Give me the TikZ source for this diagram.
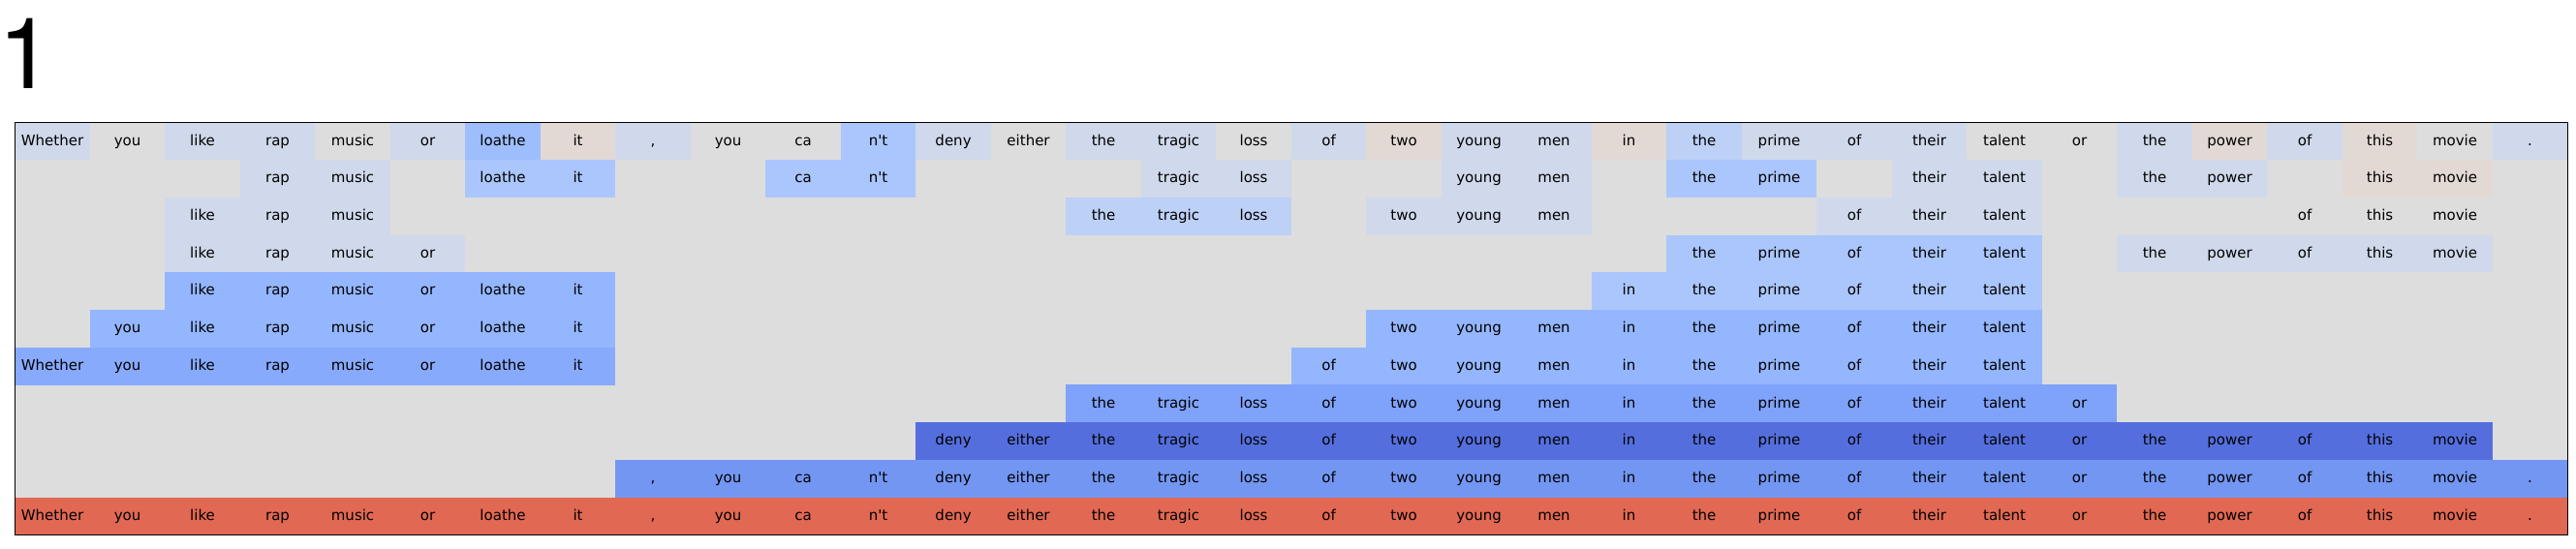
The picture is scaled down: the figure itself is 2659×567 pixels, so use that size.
\documentclass[tikz,border=0pt]{standalone}
\usepackage{fontspec}
\setmainfont{DejaVu Sans}
\newfontfamily\titlefont{TeX Gyre Heros}
\definecolor{colg}{RGB}{221,221,221}
\definecolor{cola}{RGB}{207,217,235}
\definecolor{cole}{RGB}{226,217,212}
\definecolor{colL}{RGB}{158,189,253}
\definecolor{colB}{RGB}{170,198,252}
\definecolor{colc}{RGB}{189,208,246}
\definecolor{colm}{RGB}{148,182,254}
\definecolor{coln}{RGB}{136,170,252}
\definecolor{colp}{RGB}{127,162,250}
\definecolor{cold}{RGB}{84,111,221}
\definecolor{colq}{RGB}{115,150,242}
\definecolor{colr}{RGB}{225,104,82}
\foreach \t [count=\i from 0] in {Whether,you,like,rap,music,or,loathe,it,{,},you,ca,n\textquotesingle t,deny,either,the,tragic,loss,of,two,young,men,in,the,prime,of,their,talent,or,the,power,of,this,movie,.}{\expandafter\global\expandafter\let\csname tok\i\endcsname\t}
\newcommand\cellrow[2]{%
  \foreach \c [count=\i from 0] in {#2} {%
    \if\c-\else
      \node[cell, fill=col\c] (c#1-\i) at ({15.3+77.5*(\i+0.5)},{126.5+38.71*(#1+0.5)}) {\csname tok\i\endcsname};
    \fi
  }}
\begin{document}
\begin{tikzpicture}[x=0.5pt,y=-0.5pt,
  cell/.style={inner sep=0pt, outer sep=0pt, minimum width=38.85pt, minimum height=19.45pt,
    text height=6pt, text depth=1.7pt, font=\fontsize{7.5}{9}\selectfont, text=black},
  gridbg/.style={fill=colg, draw=none},
  frame/.style={draw=black, line width=0.8pt}]
\useasboundingbox (0,0) rectangle (2659,567);
\node[anchor=base west, inner sep=0pt] (title) at (-1.5,91) {\titlefont\fontsize{51}{51}\selectfont 1};
\fill[gridbg] (15.3,126.5) rectangle (2650.3,552.3);
\cellrow{0}{a,g,a,a,g,a,L,e,a,g,g,B,a,g,a,a,g,a,e,a,a,e,c,a,a,a,g,g,a,e,a,e,g,a}
\cellrow{1}{-,-,-,a,a,-,B,B,-,-,B,B,-,-,-,a,a,-,-,a,a,-,B,B,-,a,a,-,a,a,-,e,e,-}
\cellrow{2}{-,-,a,a,a,-,-,-,-,-,-,-,-,-,c,c,c,-,a,a,a,-,-,-,a,a,a,-,-,-,g,g,g,-}
\cellrow{3}{-,-,a,a,a,a,-,-,-,-,-,-,-,-,-,-,-,-,-,-,-,-,B,B,B,B,B,-,a,a,a,a,a,-}
\cellrow{4}{-,-,m,m,m,m,m,m,-,-,-,-,-,-,-,-,-,-,-,-,-,B,B,B,B,B,B,-,-,-,-,-,-,-}
\cellrow{5}{-,m,m,m,m,m,m,m,-,-,-,-,-,-,-,-,-,-,m,m,m,m,m,m,m,m,m,-,-,-,-,-,-,-}
\cellrow{6}{n,n,n,n,n,n,n,n,-,-,-,-,-,-,-,-,-,m,m,m,m,m,m,m,m,m,m,-,-,-,-,-,-,-}
\cellrow{7}{-,-,-,-,-,-,-,-,-,-,-,-,-,-,p,p,p,p,p,p,p,p,p,p,p,p,p,p,-,-,-,-,-,-}
\cellrow{8}{-,-,-,-,-,-,-,-,-,-,-,-,d,d,d,d,d,d,d,d,d,d,d,d,d,d,d,d,d,d,d,d,d,-}
\cellrow{9}{-,-,-,-,-,-,-,-,q,q,q,q,q,q,q,q,q,q,q,q,q,q,q,q,q,q,q,q,q,q,q,q,q,q}
\cellrow{10}{r,r,r,r,r,r,r,r,r,r,r,r,r,r,r,r,r,r,r,r,r,r,r,r,r,r,r,r,r,r,r,r,r,r}
\draw[frame] (15.3,126.5) rectangle (2650.3,552.3);
\end{tikzpicture}
\end{document}
